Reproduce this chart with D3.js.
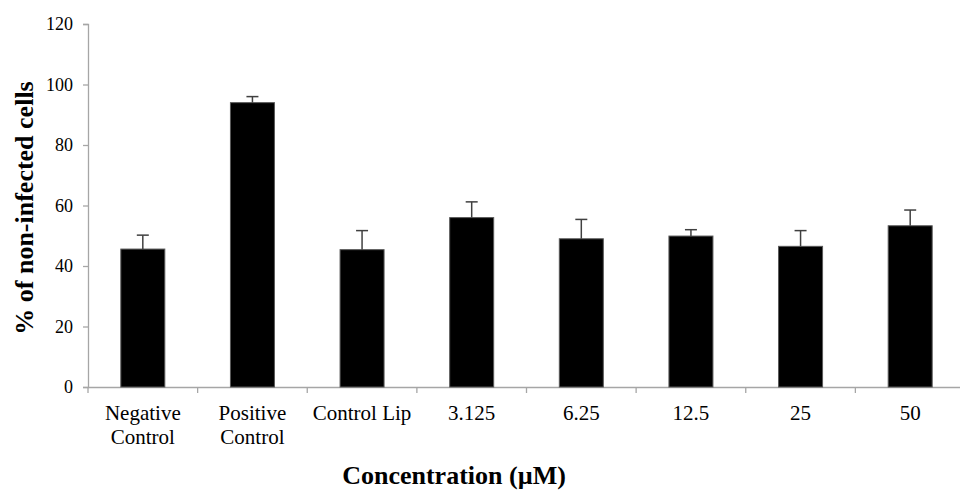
<!DOCTYPE html>
<html>
<head>
<meta charset="utf-8">
<script src="https://cdn.jsdelivr.net/npm/d3@7"></script>
<style>
  body { margin: 0; background: #fff; }
  text { font-family: "Liberation Serif", "Times New Roman", serif; }
</style>
</head>
<body>
<svg id="chart" width="960" height="491"></svg>
<script>
// categories, shown over one or two lines
var categories = ['Negative Control', 'Positive Control', 'Control Lip', '3.125', '6.25', '12.5', '25', '50'];
var labelLines = [['Negative', 'Control'], ['Positive', 'Control'], ['Control Lip'], ['3.125'], ['6.25'], ['12.5'], ['25'], ['50']];
var values = [45.6, 94.0, 45.4, 56.0, 49.0, 49.9, 46.5, 53.3];
var errors = [4.6, 2.0, 6.3, 5.2, 6.4, 2.1, 5.2, 5.2];
var yTicks = [0, 20, 40, 60, 80, 100, 120];

var svg = d3.select('#chart');
var plotLeft = 88, plotRight = 965, plotTop = 24, plotBottom = 387;

var x = d3.scaleBand()
    .domain(categories)
    .range([plotLeft, plotRight]);

var y = d3.scaleLinear()
    .domain([0, 120])
    .range([plotBottom, plotTop]);

// y axis
var yAxis = svg.append('g')
    .attr('transform', 'translate(' + plotLeft + ',0)')
    .call(d3.axisLeft(y).tickValues(yTicks).tickSize(5).tickPadding(10));
yAxis.select('.domain').attr('stroke', '#a6a6a6').attr('stroke-width', 1.3);
yAxis.selectAll('.tick line').attr('stroke', '#a6a6a6').attr('stroke-width', 1.3);
yAxis.selectAll('.tick text')
    .attr('font-size', 18)
    .attr('fill', '#000')
    .style('font-family', '"Liberation Serif", serif');

// x axis: ticks sit on band boundaries
var xAxis = svg.append('g')
    .attr('transform', 'translate(0,' + plotBottom + ')')
    .call(d3.axisBottom(x).tickSize(0).tickFormat(''));
xAxis.select('.domain').attr('stroke', '#a6a6a6').attr('stroke-width', 1.3);

var bounds = categories.map(function (c) { return x(c); }).concat([x(categories[categories.length - 1]) + x.bandwidth()]);
svg.selectAll('.xtick')
    .data(bounds)
    .enter().append('line')
    .attr('class', 'xtick')
    .attr('x1', function (d) { return d; })
    .attr('x2', function (d) { return d; })
    .attr('y1', plotBottom)
    .attr('y2', plotBottom + 6)
    .attr('stroke', '#a6a6a6').attr('stroke-width', 1.3);

var catCenter = function (i) { return x(categories[i]) + x.bandwidth() / 2; };

svg.selectAll('.xlabel')
    .data(labelLines)
    .enter().append('text')
    .attr('class', 'xlabel')
    .attr('text-anchor', 'middle')
    .attr('font-size', 21)
    .each(function (lines, i) {
        var t = d3.select(this);
        lines.forEach(function (ln, j) {
            t.append('tspan')
                .attr('x', catCenter(i))
                .attr('y', 420 + j * 24)
                .text(ln);
        });
    });

// bars
var barW = 44;
svg.selectAll('.bar')
    .data(values)
    .enter().append('rect')
    .attr('class', 'bar')
    .attr('x', function (d, i) { return catCenter(i) - barW / 2; })
    .attr('width', barW)
    .attr('y', function (d) { return y(d); })
    .attr('height', function (d) { return y(0) - y(d); })
    .style('fill', '#000')
    .style('stroke', '#595959')
    .style('stroke-width', 1);

// error bars (upper only)
var err = svg.selectAll('.err')
    .data(values)
    .enter().append('g')
    .attr('class', 'err');
err.append('line')
    .attr('x1', function (d, i) { return catCenter(i); })
    .attr('x2', function (d, i) { return catCenter(i); })
    .attr('y1', function (d) { return y(d); })
    .attr('y2', function (d, i) { return y(d + errors[i]); })
    .attr('stroke', '#404040').attr('stroke-width', 1.5);
err.append('line')
    .attr('x1', function (d, i) { return catCenter(i) - 6; })
    .attr('x2', function (d, i) { return catCenter(i) + 6; })
    .attr('y1', function (d, i) { return y(d + errors[i]); })
    .attr('y2', function (d, i) { return y(d + errors[i]); })
    .attr('stroke', '#404040').attr('stroke-width', 1.5);

// axis titles
svg.append('text')
    .attr('transform', 'translate(33,208) rotate(-90)')
    .attr('text-anchor', 'middle')
    .attr('font-size', 26)
    .attr('font-weight', 'bold')
    .text('% of non-infected cells');

svg.append('text')
    .attr('x', 454)
    .attr('y', 484)
    .attr('text-anchor', 'middle')
    .attr('font-size', 26)
    .attr('font-weight', 'bold')
    .text('Concentration (µM)');
</script>
</body>
</html>
